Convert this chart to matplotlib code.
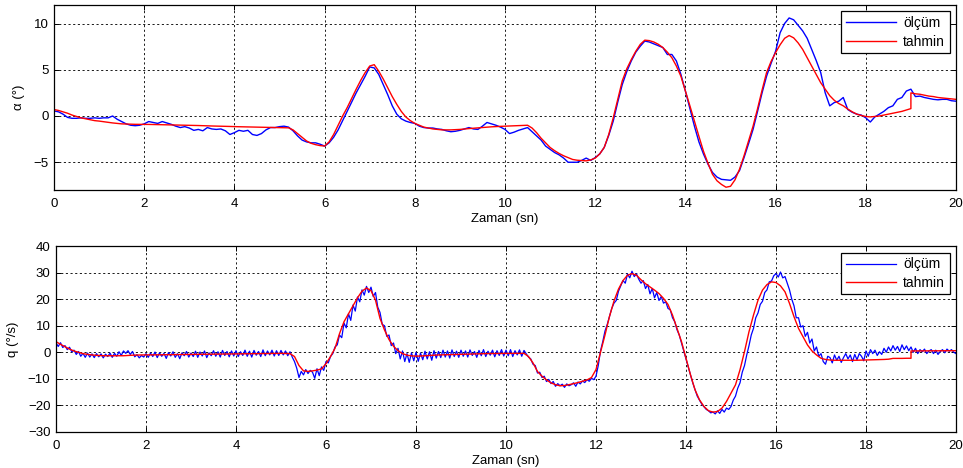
import numpy as np
import matplotlib
matplotlib.use("Agg")
import matplotlib.pyplot as plt

plt.rcParams['font.family'] = ['Liberation Sans', 'DejaVu Sans']
plt.rcParams['font.size'] = 9

# ---------------- data ----------------
# time grids (s)
t_alpha_meas = np.round(np.arange(0, 201) * 0.1, 2)
t_est = np.concatenate([np.round(np.arange(0, 191) * 0.1, 2), [19.0],
                        np.round(np.arange(191, 201) * 0.1, 2)])
t_q_meas = np.round(np.arange(0, 401) * 0.05, 3)

alpha_meas = [
    0.55, 0.45, 0.20, -0.15, -0.25, -0.25, -0.20, -0.25, -0.25, -0.20,
    -0.25, -0.20, -0.20, 0.00, -0.35, -0.60, -0.85, -1.00, -1.05, -1.00,
    -0.85, -0.60, -0.70, -0.80, -0.60, -0.75, -0.90, -1.10, -1.25, -1.15,
    -1.30, -1.55, -1.45, -1.60, -1.25, -1.40, -1.45, -1.40, -1.60, -2.00,
    -1.80, -1.55, -1.65, -1.55, -2.00, -2.10, -1.90, -1.50, -1.25, -1.25,
    -1.15, -1.10, -1.20, -1.60, -2.15, -2.60, -2.80, -2.90, -2.90, -3.05,
    -3.25, -2.90, -2.30, -1.50, -0.50, 0.50, 1.50, 2.50, 3.40, 4.30,
    5.30, 5.20, 4.50, 3.40, 2.30, 1.10, 0.20, -0.30, -0.55, -0.70,
    -0.80, -1.10, -1.25, -1.30, -1.30, -1.40, -1.45, -1.60, -1.70, -1.65,
    -1.55, -1.40, -1.25, -1.40, -1.45, -1.10, -0.70, -0.85, -1.00, -1.20,
    -1.45, -1.90, -1.75, -1.55, -1.40, -1.25, -1.70, -2.15, -2.60, -3.25,
    -3.60, -3.95, -4.20, -4.55, -5.00, -5.00, -5.00, -4.80, -4.55, -4.80,
    -4.50, -4.10, -3.40, -2.10, -0.55, 1.50, 3.40, 4.80, 5.95, 6.90,
    7.55, 8.10, 8.00, 7.80, 7.60, 7.40, 6.65, 6.65, 5.95, 4.50,
    2.70, 0.80, -1.10, -2.80, -4.10, -5.20, -6.10, -6.60, -6.85, -6.90,
    -6.95, -6.60, -5.90, -4.50, -3.00, -1.45, 0.50, 2.50, 4.30, 5.70,
    7.00, 9.00, 10.00, 10.60, 10.40, 9.80, 9.20, 8.40, 7.20, 6.00,
    4.70, 2.50, 1.10, 1.45, 1.60, 2.00, 0.70, 0.40, 0.20, 0.10,
    -0.20, -0.65, -0.10, 0.20, 0.50, 0.90, 1.10, 1.80, 2.00, 2.70,
    2.90, 2.10, 2.15, 2.00, 1.90, 1.80, 1.75, 1.80, 1.80, 1.65,
    1.60,
]

alpha_est = [
    0.70, 0.60, 0.45, 0.30, 0.10, -0.05, -0.20, -0.30, -0.40, -0.50,
    -0.55, -0.62, -0.70, -0.75, -0.80, -0.85, -0.87, -0.89, -0.90, -0.90,
    -0.90, -0.91, -0.92, -0.93, -0.94, -0.95, -0.96, -0.97, -0.98, -0.99,
    -1.00, -1.02, -1.03, -1.05, -1.06, -1.08, -1.09, -1.10, -1.12, -1.13,
    -1.15, -1.16, -1.17, -1.18, -1.20, -1.21, -1.22, -1.23, -1.24, -1.25,
    -1.26, -1.27, -1.28, -1.50, -1.90, -2.30, -2.70, -2.95, -3.10, -3.20,
    -3.25, -2.80, -2.00, -1.00, 0.00, 0.90, 1.90, 2.90, 3.85, 4.70,
    5.40, 5.55, 4.85, 4.00, 3.05, 2.10, 1.26, 0.50, -0.10, -0.50,
    -0.80, -1.00, -1.20, -1.30, -1.40, -1.45, -1.50, -1.50, -1.50, -1.48,
    -1.45, -1.40, -1.36, -1.32, -1.28, -1.24, -1.20, -1.17, -1.14, -1.12,
    -1.10, -1.07, -1.05, -1.03, -1.01, -1.00, -1.30, -1.80, -2.40, -2.90,
    -3.40, -3.75, -4.05, -4.30, -4.50, -4.70, -4.78, -4.82, -4.85, -4.75,
    -4.55, -4.10, -3.40, -2.00, -0.20, 1.80, 3.80, 5.10, 6.10, 7.00,
    7.75, 8.20, 8.15, 8.00, 7.75, 7.40, 6.90, 6.30, 5.40, 4.30,
    2.70, 1.10, -0.55, -2.20, -3.80, -5.10, -6.30, -7.00, -7.40, -7.70,
    -7.60, -6.90, -5.75, -4.30, -2.70, -1.10, 0.80, 2.80, 4.70, 5.90,
    6.85, 7.70, 8.40, 8.70, 8.45, 7.90, 7.20, 6.30, 5.40, 4.50,
    3.60, 2.90, 2.20, 1.70, 1.35, 1.10, 0.75, 0.45, 0.20, 0.05,
    -0.05, -0.10, -0.05, 0.00, 0.10, 0.20, 0.30, 0.40, 0.50, 0.65,
    0.80, 2.50,
    2.40, 2.35, 2.25, 2.15, 2.10, 2.00, 1.95, 1.90, 1.85, 1.80,
]

q_meas = [
    3.5, 2.2, 3.6, 1.8, 2.5, 1.0, 1.9, 0.2, 0.8, -0.8, 0.3, -1.5, -0.4, -1.9, -0.3, -1.8, -0.6, -2.0, -0.5, -1.7,
    -0.6, -2.1, -0.7, -1.6, -0.3, -1.9, -0.4, -1.5, 0.2, -1.2, 0.5, -0.4, 0.6, -0.8, 0.3, -1.7, -0.9, -2.1, -1.2, -1.8,
    -0.5, -1.9, -0.3, -1.6, 0.1, -2.0, -0.2, -1.5, -0.4, -2.3, -0.1, -1.4, 0.2, -1.9, -0.5, -2.4, -0.2, -1.3, 0.3, -1.8,
    -0.3, -1.6, 0.4, -1.9, 0.1, -1.4, 0.5, -2.0, -0.2, -1.3, 0.6, -1.5, 0.2, -1.8, 0.7, -1.2, 0.3, -1.7, 0.5, -1.4,
    0.6, -1.6, 0.2, -1.2, 0.8, -1.5, 0.4, -1.8, 0.7, -1.1, 0.3, -1.6, 0.9, -1.3, 0.5, -1.0, 0.8, -1.4, 0.6, -1.2,
    0.7, -1.0, 0.5, -1.3, 0.2, -1.8, -3.5, -6.0, -9.5, -7.2, -8.5, -6.5, -8.0, -6.8, -7.5, -9.8, -6.2, -8.8, -5.5, -6.8,
    -3.5, -4.0, -1.6, -0.5, 2.0, 2.8, 6.5, 5.5, 11.0, 9.2, 14.5, 12.0, 17.8, 15.5, 20.8, 19.0, 23.5, 21.5, 24.8, 22.5,
    24.5, 21.0, 22.5, 17.0, 15.0, 10.5, 10.0, 6.0, 6.5, 2.5, 3.5, -0.5, 1.5, -2.5, 0.5, -3.5, -0.5, -3.8, -0.2, -3.2,
    0.0, -3.4, -0.3, -2.8, 0.4, -2.5, 0.2, -3.0, 0.6, -2.2, 0.3, -2.0, 0.8, -1.8, 0.5, -2.2, 0.9, -1.6, 0.4, -1.9,
    0.8, -1.5, 0.5, -1.8, 0.9, -1.2, 0.3, -1.9, 0.7, -1.3, 1.0, -1.6, 0.4, -1.1, 0.8, -1.7, 0.6, -1.2, 1.0, -1.4,
    0.8, -1.3, 1.0, -1.6, 0.6, -1.0, 0.9, -1.5, 0.7, -0.6, -1.8, -2.5, -4.5, -5.0, -7.8, -7.5, -9.5, -9.0, -11.0, -10.2,
    -11.8, -11.0, -12.8, -11.8, -12.6, -12.0, -13.2, -11.9, -12.6, -12.2, -11.5, -12.8, -11.2, -11.9, -10.8, -11.4, -10.3, -10.9, -9.8, -10.3,
    -9.0, -5.0, 0.5, 4.0, 8.0, 10.5, 13.5, 16.5, 18.5, 19.5, 23.0, 25.0, 27.0, 26.0, 29.5, 28.0, 30.5, 28.5, 29.5, 27.5,
    26.0, 27.0, 24.0, 25.5, 22.0, 24.0, 20.5, 22.5, 19.5, 21.0, 18.5, 19.0, 16.5, 16.0, 13.0, 11.5, 8.5, 6.5, 3.5, 0.5,
    -2.5, -5.5, -8.5, -11.5, -14.0, -16.5, -18.0, -19.5, -20.5, -21.5, -22.0, -22.8, -22.5, -23.2, -22.0, -23.0, -21.5, -22.5, -21.0, -21.5,
    -20.4, -18.0, -16.5, -13.5, -11.5, -7.5, -5.0, -1.0, 2.5, 6.5, 9.0, 13.0, 14.8, 18.0, 19.2, 22.5, 23.5, 26.5, 26.8, 28.8,
    29.6, 28.3, 30.2, 28.0, 28.5, 26.0, 23.5, 20.0, 17.5, 13.0, 13.0, 9.5, 10.0, 6.0, 7.5, 3.5, 5.0, 0.5, 2.0, -1.5,
    -0.5, -3.5, -4.5, -1.5, -2.0, -4.0, -1.0, -3.0, -1.5, -3.8, -2.0, -0.5, -2.5, -1.0, -3.5, -0.8, -2.8, -0.5, -1.5, -3.2,
    0.5, -1.5, 1.0, -0.5, 0.8, -1.2, 0.2, -0.8, 1.5, 0.0, 2.0, 0.5, 2.5, 0.8, 2.2, 0.3, 2.8, 1.0, 2.4, 0.6,
    2.0, 0.0, 1.5, -0.5, 1.0, 0.2, 1.2, -0.5, 0.5, 1.0, -0.5, 0.8, -0.8, 0.3, 1.0, -0.2, 1.2, 0.4, 1.0, 0.0,
    -0.5,
]

q_est = [
    4.0, 3.0, 2.1, 1.2, 0.5, 0.0, -0.5, -0.8, -1.0, -1.15,
    -1.25, -1.3, -1.3, -1.3, -1.3, -1.3, -1.2, -1.1, -1.05, -1.0,
    -1.0, -0.98, -0.96, -0.94, -0.92, -0.9, -0.88, -0.86, -0.84, -0.82,
    -0.8, -0.78, -0.76, -0.74, -0.72, -0.7, -0.68, -0.66, -0.64, -0.62,
    -0.6, -0.58, -0.56, -0.54, -0.52, -0.5, -0.48, -0.46, -0.44, -0.42,
    -0.4, -0.45, -0.5, -1.6, -5.0, -7.0, -7.2, -7.0, -6.7, -6.25,
    -4.3, -1.6, 1.5, 7.0, 11.5, 14.5, 17.5, 20.5, 23.0, 24.2,
    23.2, 19.6, 12.75, 8.4, 4.8, 2.3, 0.6, -0.5, -1.1, -1.35,
    -1.45, -1.4, -1.3, -1.2, -1.1, -1.0, -0.95, -0.9, -0.85, -0.8,
    -0.75, -0.7, -0.65, -0.6, -0.55, -0.5, -0.48, -0.46, -0.44, -0.42,
    -0.4, -0.4, -0.4, -0.4, -0.4, -1.6, -4.0, -7.25, -9.0, -10.4,
    -11.5, -12.2, -12.6, -12.5, -12.2, -11.8, -11.4, -10.9, -10.4, -9.5,
    -6.5, 0.0, 6.5, 13.5, 19.3, 23.8, 27.0, 29.0, 29.6, 29.0,
    27.3, 25.8, 24.6, 23.4, 22.1, 20.3, 18.0, 14.0, 9.0, 4.0,
    -2.25, -8.5, -14.1, -17.9, -20.4, -22.0, -22.5, -22.3, -21.0, -18.5,
    -15.4, -12.25, -6.6, 0.25, 7.75, 14.0, 19.6, 23.4, 25.5, 26.5,
    26.25, 25.0, 22.75, 18.4, 13.4, 9.0, 5.9, 2.75, 0.5, -1.0,
    -2.25, -2.7, -2.9, -3.0, -3.0, -3.0, -3.0, -3.0, -3.0, -2.95,
    -2.9, -2.85, -2.8, -2.75, -2.7, -2.6, -2.3, -2.3, -2.3, -2.25,
    -2.25, 0.5,
    0.5, 0.5, 0.52, 0.54, 0.55, 0.56, 0.57, 0.58, 0.59, 0.6,
]

legend_labels = ["ölçüm", "tahmin"]
xticks = [0, 2, 4, 6, 8, 10, 12, 14, 16, 18, 20]
alpha_yticks = [-5, 0, 5, 10]
q_yticks = [-30, -20, -10, 0, 10, 20, 30, 40]

# ---------------- figure ----------------
W, H = 963, 468
fig = plt.figure(figsize=(W / 100, H / 100), dpi=100)


def box(l, t, r, b):
    return [l / W, 1 - b / H, (r - l) / W, (b - t) / H]


ax1 = fig.add_axes(box(54, 5, 956, 190))
ax2 = fig.add_axes(box(56, 246, 956, 432))


def style(ax, yticks, ylim, ylabel):
    ax.set_xlim(0, 20)
    ax.set_ylim(*ylim)
    ax.set_xticks(xticks)
    ax.set_yticks(yticks)
    ax.grid(True, color='0.1', linestyle=(0, (2.2, 2.6)), linewidth=0.7)
    ax.tick_params(direction='in', length=3.5, width=0.7, top=True, right=True,
                   labelsize=9.5, pad=4)
    ax.tick_params(axis='x', pad=6)
    for s in ax.spines.values():
        s.set_linewidth(0.9)
    ax.set_xlabel("Zaman (sn)", fontsize=9.5, labelpad=2)
    ax.set_ylabel(ylabel, fontsize=9.5, labelpad=6)


ax1.plot(t_alpha_meas, alpha_meas, color=(0, 0, 1), lw=1.0, label=legend_labels[0])
ax1.plot(t_est, alpha_est, color=(1, 0, 0), lw=1.0, label=legend_labels[1])
style(ax1, alpha_yticks, (-8, 12), "α (°)")

ax2.plot(t_q_meas, q_meas, color=(0, 0, 1), lw=0.9, label=legend_labels[0])
ax2.plot(t_est, q_est, color=(1, 0, 0), lw=1.0, label=legend_labels[1])
style(ax2, q_yticks, (-30, 40), "q (°/s)")

for ax in (ax1, ax2):
    leg = ax.legend(loc='upper right', bbox_to_anchor=(0.993, 0.965), fontsize=10,
                    fancybox=False, framealpha=1, edgecolor='black',
                    handlelength=3.6, handletextpad=0.5, labelspacing=0.3,
                    borderpad=0.35, borderaxespad=0.0)
    leg.get_frame().set_linewidth(0.9)

fig.savefig("out.png", dpi=100)
